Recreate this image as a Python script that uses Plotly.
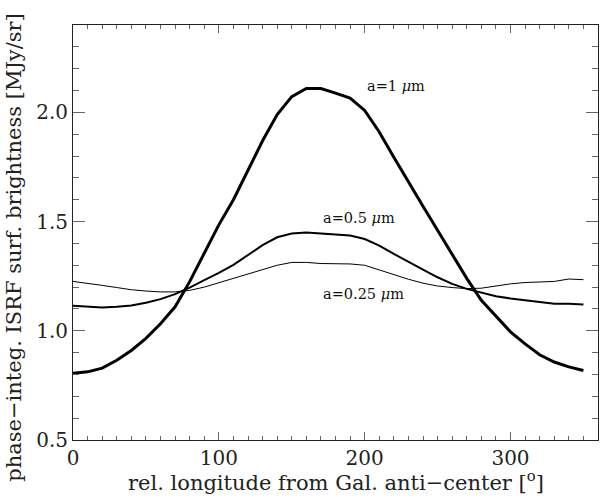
import plotly.graph_objects as go

lon = list(range(0, 360, 10))

a1 = [0.805, 0.812, 0.829, 0.865, 0.910, 0.965, 1.032, 1.110, 1.225, 1.355,
      1.485, 1.600, 1.735, 1.870, 1.990, 2.072, 2.109, 2.109, 2.088, 2.065,
      2.009, 1.910, 1.795, 1.680, 1.570, 1.460, 1.350, 1.240, 1.140, 1.065,
      0.995, 0.940, 0.890, 0.857, 0.835, 0.818]

a05 = [1.115, 1.110, 1.107, 1.110, 1.116, 1.128, 1.145, 1.168, 1.198, 1.232,
       1.265, 1.302, 1.345, 1.392, 1.428, 1.445, 1.450, 1.445, 1.440, 1.436,
       1.420, 1.390, 1.352, 1.315, 1.280, 1.245, 1.215, 1.192, 1.175, 1.158,
       1.148, 1.140, 1.132, 1.124, 1.124, 1.120]

a025 = [1.226, 1.218, 1.208, 1.198, 1.188, 1.182, 1.178, 1.178, 1.185, 1.200,
        1.220, 1.240, 1.262, 1.282, 1.300, 1.313, 1.313, 1.308, 1.306, 1.306,
        1.300, 1.278, 1.257, 1.236, 1.218, 1.205, 1.198, 1.193, 1.195, 1.205,
        1.215, 1.221, 1.224, 1.226, 1.237, 1.234]

labels = ["a=1 <i>μ</i>m", "a=0.5 <i>μ</i>m", "a=0.25 <i>μ</i>m"]
label_x = [200, 170, 170]
label_y = [2.12, 1.517, 1.168]

FONT = "DejaVu Serif"

fig = go.Figure()
for ys, w in [(a1, 3), (a05, 2), (a025, 1)]:
    fig.add_trace(go.Scatter(x=lon, y=ys, mode="lines",
                             line=dict(color="black", width=w),
                             showlegend=False, hoverinfo="skip"))

for t, x, y in zip(labels, label_x, label_y):
    fig.add_annotation(x=x, y=y, xref="x", yref="y", text=t, showarrow=False,
                       xanchor="left", yanchor="middle",
                       font=dict(family=FONT, size=14.5, color="#111"))

axis_common = dict(showgrid=False, zeroline=False, showline=True,
                   linecolor="#222", linewidth=1, mirror="allticks",
                   ticks="inside", tickcolor="#666", tickwidth=1,
                   automargin=False,
                   tickfont=dict(family=FONT, size=20, color="#222"))

fig.update_xaxes(range=[0, 360], tickvals=[0, 100, 200, 300], ticklen=8,
                 minor=dict(dtick=10, ticks="inside", ticklen=4,
                            tickcolor="#666", tick0=0),
                 **axis_common)
fig.update_yaxes(range=[0.5, 2.4], tickvals=[0.5, 1.0, 1.5, 2.0],
                 tickformat=".1f", ticklen=12,
                 minor=dict(dtick=0.1, tick0=0.5, ticks="inside", ticklen=6,
                            tickcolor="#666"),
                 **axis_common)

fig.add_annotation(text="rel. longitude from Gal. anti−center [<sup>o</sup>]",
                   xref="paper", yref="paper", x=0.5, y=-0.098,
                   xanchor="center", yanchor="middle", showarrow=False,
                   font=dict(family=FONT, size=21, color="#222"))
fig.add_annotation(text="phase−integ. ISRF surf. brightness [MJy/sr]",
                   xref="paper", yref="paper", x=-0.113, y=0.465,
                   xanchor="center", yanchor="middle", showarrow=False,
                   textangle=-90,
                   font=dict(family=FONT, size=21, color="#222"))

fig.update_layout(width=600, height=498,
                  margin=dict(l=73, r=2, t=25, b=58),
                  paper_bgcolor="white", plot_bgcolor="white")

fig.write_html("out.html", config={"displayModeBar": False},
               post_script="document.body.style.margin='0';"
                           "document.body.style.overflow='hidden';")
